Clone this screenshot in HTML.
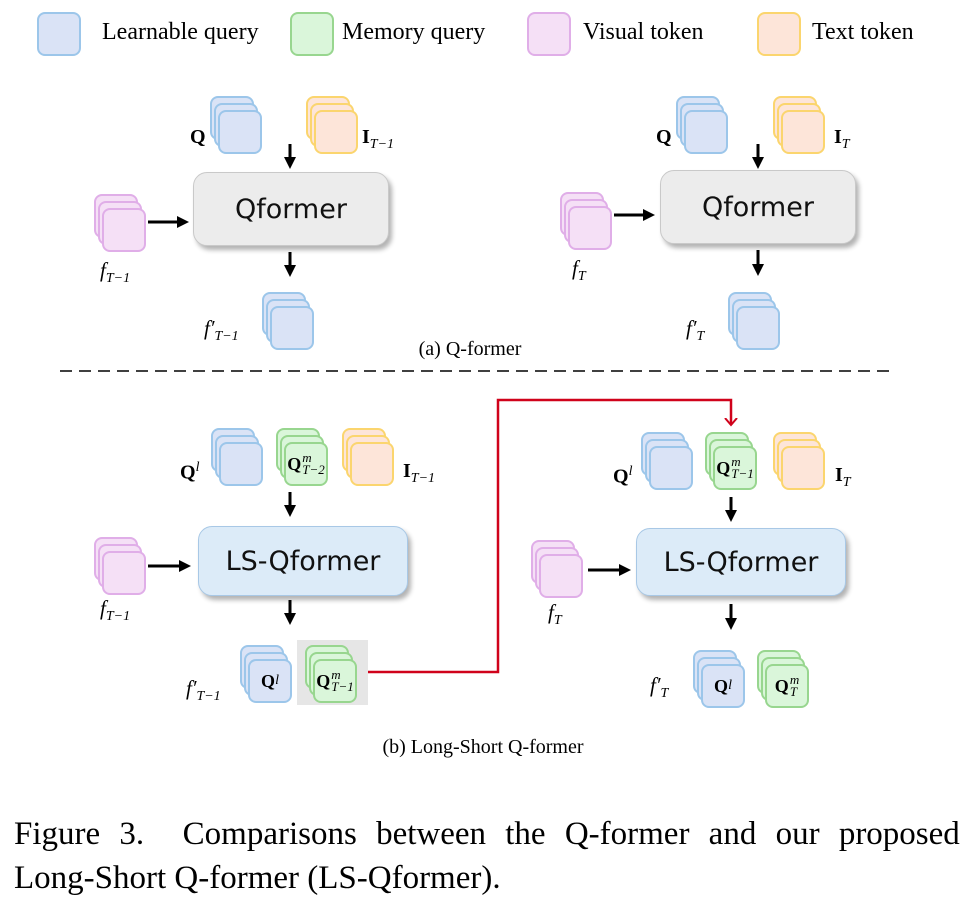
<!DOCTYPE html>
<html><head><meta charset="utf-8">
<style>
body{margin:0;width:966px;height:912px;background:#fff;position:relative;overflow:hidden;font-family:"Liberation Serif",serif;}
.abs{position:absolute;}
.stk{position:absolute;width:52px;height:58px;}
.stk i{position:absolute;width:40px;height:40px;border:2px solid;border-radius:8px;}
.stk i:nth-child(1){left:0;top:0}
.stk i:nth-child(2){left:4px;top:7px}
.stk i:nth-child(3){left:8px;top:14px}
.bl i{background:#dae3f6;border-color:#9cc6ea}
.gr i{background:#daf6da;border-color:#98d68f}
.pk i{background:#f5e0f6;border-color:#e0aee8}
.or i{background:#fde5d9;border-color:#fbd56e}
.stk b{position:absolute;left:8px;top:14px;width:44px;height:44px;display:flex;align-items:center;justify-content:center;font-size:18px;font-family:"Liberation Serif",serif;}
.ss{display:inline-flex;flex-direction:column;font-size:13px;font-style:italic;font-weight:normal;line-height:12px;margin-left:1px;}
.box{position:absolute;border-radius:14px;display:flex;align-items:center;justify-content:center;font-family:"DejaVu Sans",sans-serif;font-size:27px;color:#111;box-shadow:3px 4px 5px rgba(0,0,0,0.3);}
.gray{background:#ececec;border:1.5px solid #c9c9c9}
.blue{background:#dcebf8;border:1.5px solid #a8c8e6}
.lab{position:absolute;font-size:21px;font-style:italic;}
.bq{position:absolute;font-size:20px;font-weight:bold;}
sub,sup{font-size:14px;font-style:italic;font-weight:normal;}
.leg{position:absolute;width:40px;height:40px;border:2px solid;border-radius:8px;top:12px;}
.lt{position:absolute;top:19px;font-size:24px;}
</style></head><body>
<div class="leg" style="left:37px;background:#dae3f6;border-color:#9cc6ea"></div><div class="lt" style="left:102px">Learnable query</div>
<div class="leg" style="left:290px;background:#daf6da;border-color:#98d68f"></div><div class="lt" style="left:342px">Memory query</div>
<div class="leg" style="left:527px;background:#f5e0f6;border-color:#e0aee8"></div><div class="lt" style="left:583px">Visual token</div>
<div class="leg" style="left:757px;background:#fde5d9;border-color:#fbd56e"></div><div class="lt" style="left:812px">Text token</div>

<svg class="abs" style="left:0;top:0" width="966" height="912">
<defs>
<marker id="ah" markerWidth="14" markerHeight="14" refX="9" refY="7" orient="auto" markerUnits="userSpaceOnUse"><path d="M0,1 L12,7 L0,13 z" fill="#000"/></marker>
<marker id="rh" markerWidth="14" markerHeight="14" refX="7" refY="7" orient="auto" markerUnits="userSpaceOnUse"><path d="M0,1 L7,7 L0,13" fill="none" stroke="#d0021b" stroke-width="2"/></marker>
</defs>
<g stroke="#000" stroke-width="3" marker-end="url(#ah)">
<line x1="290" y1="144" x2="290" y2="166"/>
<line x1="148" y1="222" x2="186" y2="222"/>
<line x1="290" y1="252" x2="290" y2="274"/>
<line x1="758" y1="144" x2="758" y2="166"/>
<line x1="614" y1="215" x2="652" y2="215"/>
<line x1="758" y1="250" x2="758" y2="273"/>
<line x1="290" y1="492" x2="290" y2="514"/>
<line x1="148" y1="566" x2="188" y2="566"/>
<line x1="290" y1="600" x2="290" y2="622"/>
<line x1="731" y1="497" x2="731" y2="519"/>
<line x1="588" y1="570" x2="628" y2="570"/>
<line x1="731" y1="604" x2="731" y2="627"/>
</g>
<line x1="60" y1="371" x2="892" y2="371" stroke="#000" stroke-width="1.5" stroke-dasharray="12,7"/>
<polyline points="368,672 498,672 498,400 731,400 731,425" fill="none" stroke="#d0021b" stroke-width="2.5" marker-end="url(#rh)"/>
</svg>

<div class="stk bl" style="left:210px;top:96px"><i></i><i></i><i></i></div>
<div class="stk or" style="left:306px;top:96px"><i></i><i></i><i></i></div>
<div class="stk pk" style="left:94px;top:194px"><i></i><i></i><i></i></div>
<div class="stk bl" style="left:262px;top:292px"><i></i><i></i><i></i></div>
<div class="box gray" style="left:193px;top:172px;width:194px;height:72px">Qformer</div>
<div class="bq" style="left:190px;top:126px">Q</div>
<div class="bq" style="left:362px;top:126px">I<sub>T−1</sub></div>
<div class="lab" style="left:100px;top:258px">f<sub>T−1</sub></div>
<div class="lab" style="left:204px;top:316px">f′<sub>T−1</sub></div>

<div class="stk bl" style="left:676px;top:96px"><i></i><i></i><i></i></div>
<div class="stk or" style="left:773px;top:96px"><i></i><i></i><i></i></div>
<div class="stk pk" style="left:560px;top:192px"><i></i><i></i><i></i></div>
<div class="stk bl" style="left:728px;top:292px"><i></i><i></i><i></i></div>
<div class="box gray" style="left:660px;top:170px;width:194px;height:72px">Qformer</div>
<div class="bq" style="left:656px;top:126px">Q</div>
<div class="bq" style="left:834px;top:126px">I<sub>T</sub></div>
<div class="lab" style="left:572px;top:256px">f<sub>T</sub></div>
<div class="lab" style="left:686px;top:316px">f′<sub>T</sub></div>
<div class="abs" style="left:0;width:940px;text-align:center;top:338px;font-size:20px">(a) Q-former</div>

<div class="stk bl" style="left:211px;top:428px"><i></i><i></i><i></i></div>
<div class="stk gr" style="left:276px;top:428px"><i></i><i></i><i></i><b>Q<span class="ss"><span>m</span><span>T−2</span></span></b></div>
<div class="stk or" style="left:342px;top:428px"><i></i><i></i><i></i></div>
<div class="stk pk" style="left:94px;top:537px"><i></i><i></i><i></i></div>
<div class="box blue" style="left:198px;top:526px;width:208px;height:68px">LS-Qformer</div>
<div class="bq" style="left:180px;top:460px">Q<sup>l</sup></div>
<div class="bq" style="left:403px;top:460px">I<sub>T−1</sub></div>
<div class="lab" style="left:100px;top:596px">f<sub>T−1</sub></div>
<div class="abs" style="left:297px;top:640px;width:71px;height:65px;background:#e6e6e6"></div>
<div class="stk bl" style="left:240px;top:645px"><i></i><i></i><i></i><b>Q<sup>l</sup></b></div>
<div class="stk gr" style="left:305px;top:645px"><i></i><i></i><i></i><b>Q<span class="ss"><span>m</span><span>T−1</span></span></b></div>
<div class="lab" style="left:186px;top:676px">f′<sub>T−1</sub></div>

<div class="stk bl" style="left:641px;top:432px"><i></i><i></i><i></i></div>
<div class="stk gr" style="left:705px;top:432px"><i></i><i></i><i></i><b>Q<span class="ss"><span>m</span><span>T−1</span></span></b></div>
<div class="stk or" style="left:773px;top:432px"><i></i><i></i><i></i></div>
<div class="stk pk" style="left:531px;top:540px"><i></i><i></i><i></i></div>
<div class="box blue" style="left:636px;top:528px;width:208px;height:66px">LS-Qformer</div>
<div class="bq" style="left:613px;top:464px">Q<sup>l</sup></div>
<div class="bq" style="left:835px;top:464px">I<sub>T</sub></div>
<div class="lab" style="left:548px;top:600px">f<sub>T</sub></div>
<div class="stk bl" style="left:693px;top:650px"><i></i><i></i><i></i><b>Q<sup>l</sup></b></div>
<div class="stk gr" style="left:757px;top:650px"><i></i><i></i><i></i><b>Q<span class="ss"><span>m</span><span>T</span></span></b></div>
<div class="lab" style="left:650px;top:673px">f′<sub>T</sub></div>

<div class="abs" style="left:0;width:966px;text-align:center;top:736px;font-size:20px">(b) Long-Short Q-former</div>

<div class="abs" style="left:14px;top:816px;font-size:33px;word-spacing:11px;white-space:nowrap">Figure 3.&nbsp; Comparisons between the Q-former and our proposed</div>
<div class="abs" style="left:14px;top:860px;font-size:33px">Long-Short Q-former (LS-Qformer).</div>
</body></html>
